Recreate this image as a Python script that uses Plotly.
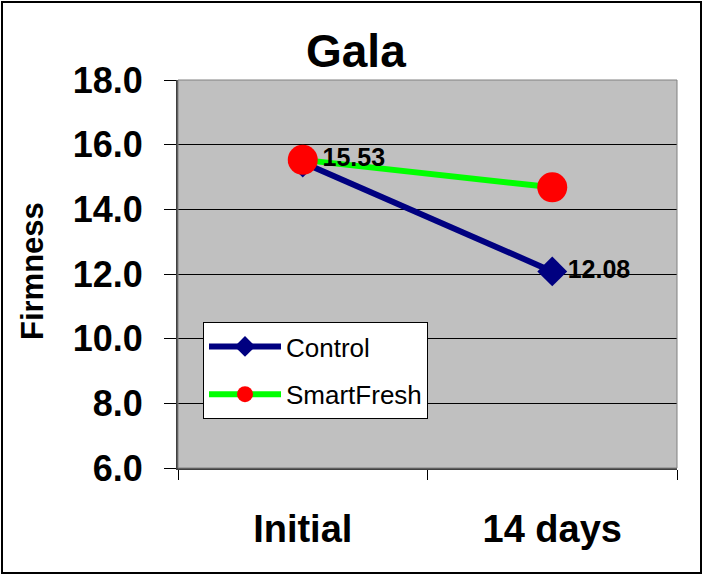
import plotly.graph_objects as go

categories = ["Initial", "14 days"]
control = [15.45, 12.08]
smartfresh = [15.53, 14.68]
control_labels = ["", "12.08"]
smartfresh_labels = ["15.53", ""]
y_ticks = [6, 8, 10, 12, 14, 16, 18]

W, H = 704, 575
L, R, T, B = 178, 27, 80, 107
pw, ph = W - L - R, H - T - B

label_font = dict(family="Liberation Sans", size=25, color="black", weight="bold")

fig = go.Figure()
fig.add_trace(go.Scatter(
    x=categories, y=control, name="Control", mode="lines+markers+text",
    legendgroup="a",
    line=dict(color="#000080", width=6),
    marker=dict(symbol="diamond", size=23, color="#000080"),
    text=control_labels, textposition="middle right", textfont=label_font,
))
fig.add_trace(go.Scatter(
    x=categories, y=smartfresh, name="SmartFresh", mode="lines+markers+text",
    legendgroup="b",
    line=dict(color="#00FF00", width=6),
    marker=dict(symbol="circle", size=30, color="#FF0000"),
    text=smartfresh_labels, textposition="middle right", textfont=label_font,
))

def px(x):
    return (x - L) / pw

def py(y):
    return (H - B - y) / ph

fig.update_layout(
    width=W, height=H,
    margin=dict(l=L, r=R, t=T, b=B),
    paper_bgcolor="white", plot_bgcolor="#C0C0C0",
    font=dict(family="Liberation Sans", color="black"),
    showlegend=True,
    legend=dict(
        x=px(203), y=py(322), xanchor="left", yanchor="top",
        bgcolor="white", bordercolor="black", borderwidth=1,
        font=dict(size=26, family="Liberation Sans"),
        itemwidth=72, traceorder="grouped", tracegroupgap=11,
    ),
    xaxis=dict(
        type="category", range=[-0.5, 1.5], tickson="boundaries",
        ticks="outside", ticklen=10, tickcolor="black",
        showline=True, linecolor="#404040", linewidth=2,
        showgrid=False, zeroline=False,
        tickfont=dict(size=38, family="Liberation Sans", weight="bold"),
        ticklabelstandoff=26,
    ),
    yaxis=dict(
        range=[6, 18], tickvals=y_ticks, tickformat=".1f",
        ticks="outside", ticklen=12, tickcolor="black",
        showline=True, linecolor="#404040", linewidth=2,
        showgrid=True, gridcolor="black", gridwidth=1, zeroline=False,
        tickfont=dict(size=36, family="Liberation Sans", weight="bold"),
        ticklabelstandoff=14,
    ),
    annotations=[
        dict(text="Gala", xref="paper", yref="paper", x=px(356), y=py(51),
             showarrow=False, xanchor="center", yanchor="middle",
             font=dict(size=46, family="Liberation Sans", weight="bold")),
        dict(text="Firmness", xref="paper", yref="paper", x=px(32), y=py(271),
             showarrow=False, xanchor="center", yanchor="middle", textangle=-90,
             font=dict(size=31, family="Liberation Sans", weight="bold")),
    ],
    shapes=[
        dict(type="rect", xref="paper", yref="paper", layer="above",
             x0=0, x1=1, y0=0, y1=1, line=dict(color="#808080", width=1)),
        dict(type="rect", xref="paper", yref="paper", layer="above",
             x0=px(2), x1=px(701), y0=py(573), y1=py(2),
             line=dict(color="black", width=2)),
    ],
)

fig.write_html("out.html", config={"displayModeBar": False},
               post_script="document.body.style.margin='0';")
